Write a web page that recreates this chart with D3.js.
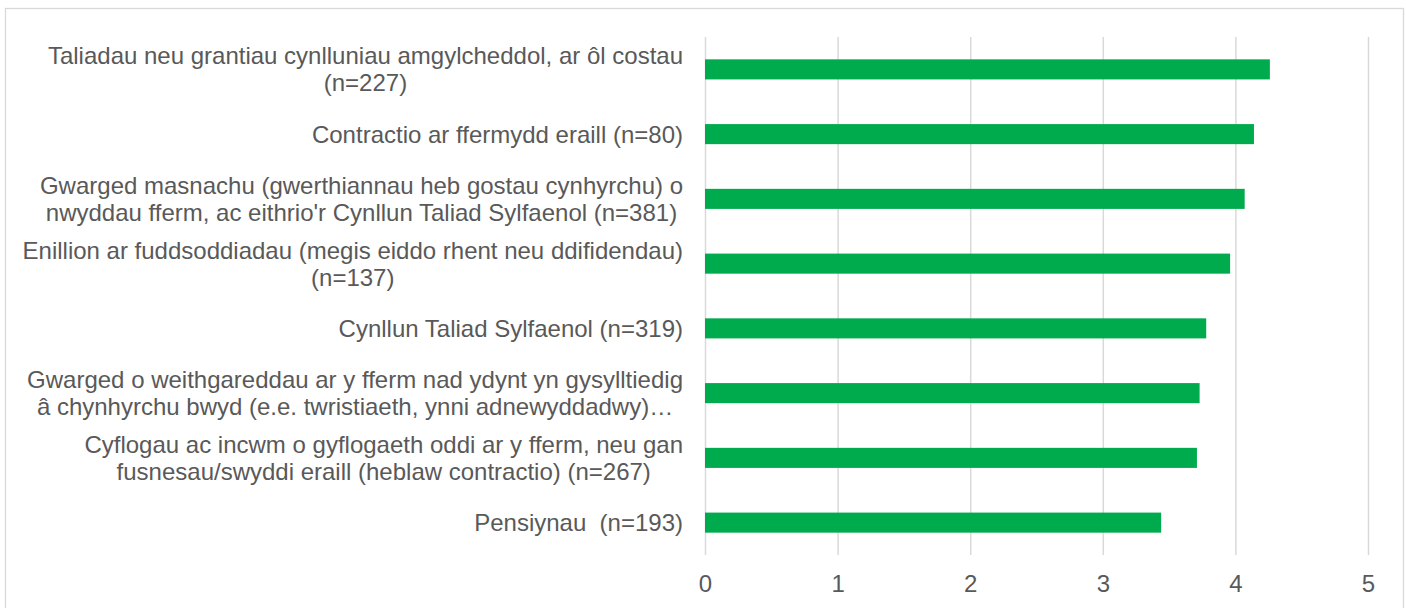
<!DOCTYPE html>
<html>
<head>
<meta charset="utf-8">
<script src="https://cdn.jsdelivr.net/npm/d3@7"></script>
<style>
  body { margin: 0; background: #fff; }
  text { font-family: "Liberation Sans", Arial, sans-serif; fill: #595959; }
</style>
</head>
<body>
<svg id="chart" width="1406" height="608"></svg>
<script>
// categories, top to bottom (each entry is the wrapped label lines)
const categories = [
  ["Taliadau neu grantiau cynlluniau amgylcheddol, ar ôl costau", "(n=227)"],
  ["Contractio ar ffermydd eraill (n=80)"],
  ["Gwarged masnachu (gwerthiannau heb gostau cynhyrchu) o", "nwyddau fferm, ac eithrio'r Cynllun Taliad Sylfaenol (n=381)"],
  ["Enillion ar fuddsoddiadau (megis eiddo rhent neu ddifidendau)", "(n=137)"],
  ["Cynllun Taliad Sylfaenol (n=319)"],
  ["Gwarged o weithgareddau ar y fferm nad ydynt yn gysylltiedig", "â chynhyrchu bwyd (e.e. twristiaeth, ynni adnewyddadwy)…"],
  ["Cyflogau ac incwm o gyflogaeth oddi ar y fferm, neu gan", "fusnesau/swyddi eraill (heblaw contractio) (n=267)"],
  ["Pensiynau  (n=193)"]
];
const values = [4.26, 4.14, 4.07, 3.96, 3.78, 3.73, 3.71, 3.44];
const xTicks = [0, 1, 2, 3, 4, 5];

document.addEventListener('DOMContentLoaded', _ => {
  const svg = d3.select("svg#chart");
  const width = +svg.attr("width");
  const height = +svg.attr("height");
  const margins = { "top": 37, "right": 38, "bottom": 53, "left": 705 };
  const chartWidth = width - margins.left - margins.right;
  const chartHeight = height - margins.top - margins.bottom;
  const fontSize = "24px";

  // outer chart frame
  svg.append("rect")
    .attr("x", 5.5).attr("y", 8.5)
    .attr("width", 1398).attr("height", 640)
    .attr("fill", "none").attr("stroke", "#d9d9d9").attr("stroke-width", 1.3);

  const keys = categories.map((d, i) => i);
  let xScale = d3.scaleLinear().domain([0, 5]).range([0, chartWidth]);
  let yScale = d3.scaleBand().domain(keys).range([0, chartHeight]).padding(0);
  const barH = yScale.bandwidth() * 0.31;

  let chart = svg.append("g").attr("transform", "translate(" + margins.left + "," + margins.top + ")");

  // vertical gridlines
  let grid = d3.axisBottom(xScale).tickValues(xTicks).tickFormat("").tickSize(-chartHeight);
  chart.append("g").attr("class", "gridlines")
    .attr("transform", "translate(0," + chartHeight + ")")
    .call(grid)
    .call(g => g.select(".domain").remove())
    .call(g => g.selectAll("line").attr("stroke", "#d9d9d9").attr("stroke-width", 1.5));

  // bottom tick labels
  let bottomAxis = d3.axisBottom(xScale).tickValues(xTicks).tickFormat(d3.format("d")).tickSize(0).tickPadding(20);
  chart.append("g").attr("class", "x axis")
    .attr("transform", "translate(0," + chartHeight + ")")
    .call(bottomAxis)
    .call(g => g.select(".domain").remove())
    .call(g => g.selectAll("text")
      .style("font-size", fontSize)
      .attr("fill", "#595959")
      .style("font-family", "'Liberation Sans', Arial, sans-serif"));

  // bars
  chart.selectAll("rect.bar").data(values)
    .enter()
    .append("rect")
    .attr("class", "bar")
    .attr("x", xScale(0))
    .attr("y", (d, i) => yScale(i) + yScale.bandwidth() / 2 - barH / 2)
    .attr("width", d => xScale(d) - xScale(0))
    .attr("height", barH)
    .attr("fill", "#00ab4e");

  // category labels: lines centred on each other, block right-aligned to the axis
  const labelRight = margins.left - 22;
  const lineH = 27;
  categories.forEach((lines, i) => {
    const cy = margins.top + yScale(i) + yScale.bandwidth() / 2;
    let t = svg.append("text")
      .attr("text-anchor", "middle")
      .style("font-size", fontSize)
      .style("white-space", "pre");
    lines.forEach((line, j) => {
      t.append("tspan")
        .attr("y", cy + (j - (lines.length - 1) / 2) * lineH)
        .attr("dy", "0.35em")
        .text(line);
    });
    let maxW = d3.max(t.selectAll("tspan").nodes(), n => n.getComputedTextLength());
    t.selectAll("tspan").attr("x", labelRight - maxW / 2);
  });
});
</script>
</body>
</html>
